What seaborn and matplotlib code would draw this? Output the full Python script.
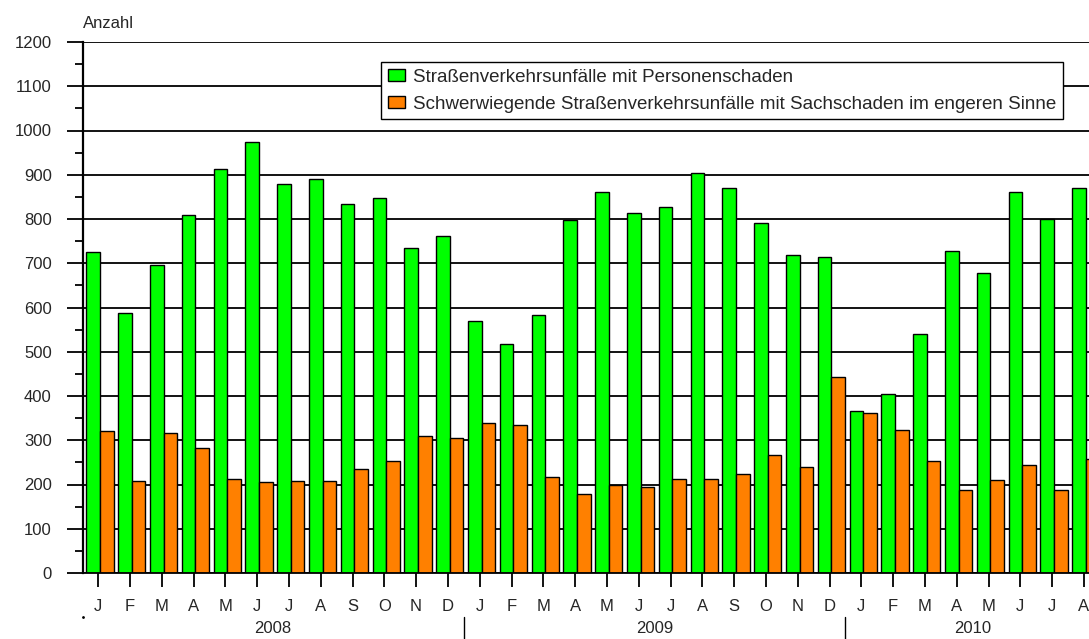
import pandas as pd
import numpy as np
import matplotlib
matplotlib.use('Agg')
import matplotlib.pyplot as plt
from matplotlib.ticker import MultipleLocator
import seaborn as sns

# Monate Jan 2008 bis Aug 2010
monate = ['J', 'F', 'M', 'A', 'M', 'J', 'J', 'A', 'S', 'O', 'N', 'D'] * 2 + ['J', 'F', 'M', 'A', 'M', 'J', 'J', 'A']
schluessel = [f'{2008 + i // 12}-{i % 12 + 1:02d}' for i in range(len(monate))]
jahre = ['2008', '2009', '2010']

personenschaden = [726, 587, 697, 809, 912, 974, 879, 891, 835, 848, 735, 761,
                   570, 517, 583, 798, 861, 814, 826, 905, 869, 792, 718, 714,
                   365, 404, 540, 728, 679, 861, 799, 869]
sachschaden = [322, 209, 317, 283, 213, 205, 209, 209, 235, 252, 310, 304,
               340, 335, 218, 179, 200, 195, 213, 213, 223, 266, 240, 444,
               361, 323, 252, 187, 210, 244, 187, 258]

reihe1 = 'Straßenverkehrsunfälle mit Personenschaden'
reihe2 = 'Schwerwiegende Straßenverkehrsunfälle mit Sachschaden im engeren Sinne'

df = pd.DataFrame({
    'monat': schluessel * 2,
    'anzahl': personenschaden + sachschaden,
    'reihe': [reihe1] * len(schluessel) + [reihe2] * len(schluessel),
})

sns.set_style('white')
plt.rcParams['font.family'] = ['Liberation Sans', 'DejaVu Sans']

fig = plt.figure(figsize=(10.89, 6.39), dpi=100)
ax = fig.add_axes([83 / 1089, 1 - 573 / 639, 1 - 83 / 1089, (573 - 42) / 639])

sns.barplot(data=df, x='monat', y='anzahl', hue='reihe', order=schluessel,
            hue_order=[reihe1, reihe2], palette=['#00ff00', '#ff8000'],
            saturation=1, width=0.86, edgecolor='black', linewidth=1.0, ax=ax)

ax.set_xlim(-0.535, 31.1)
ax.set_ylim(0, 1200)
ax.set_xlabel('')
ax.set_ylabel('')

# y-Achse: Gitterlinien reichen links über die Achse hinaus
ax.yaxis.set_major_locator(MultipleLocator(100))
ax.yaxis.set_minor_locator(MultipleLocator(50))
ax.tick_params(axis='y', which='major', length=11.5, width=1.3, color='black',
               direction='out', pad=11, labelsize=12, left=True)
ax.tick_params(axis='y', which='minor', length=6, width=1.3, color='black',
               direction='out', left=True)
ax.yaxis.grid(True, which='major', color='black', linewidth=1.3)
ax.set_axisbelow(True)

# x-Achse: Monatsbuchstaben
ax.set_xticks(np.arange(len(monate)) - 0.06)
ax.set_xticklabels(monate)
ax.tick_params(axis='x', length=10, width=1.3, color='black', direction='out',
               pad=9, labelsize=12, bottom=True)

for s in ['top', 'right']:
    ax.spines[s].set_visible(False)
ax.spines['left'].set_color('black')
ax.spines['left'].set_linewidth(1.6)
ax.spines['bottom'].set_color('black')
ax.spines['bottom'].set_linewidth(1.3)

# Jahresbeschriftung und Trennstriche
tr = ax.get_xaxis_transform()
for jahr, xm in zip(jahre, [5.44, 17.44, 27.44]):
    ax.text(xm, -0.1036, jahr, transform=tr, ha='center', va='center', fontsize=12)
for xs in [11.44, 23.44]:
    ax.plot([xs, xs], [-0.083, -0.125], transform=tr, color='black', linewidth=1.0, clip_on=False)
ax.plot([-0.53], [-0.083], transform=tr, marker='.', markersize=2, color='black', clip_on=False)

ax.text(0, 1.034, 'Anzahl', transform=ax.transAxes, ha='left', va='center', fontsize=12)

handles, labels = ax.get_legend_handles_labels()
ax.legend(handles, labels, loc='upper left', bbox_to_anchor=((381 - 83) / 1006, (573 - 62) / 531),
          borderaxespad=0, frameon=True, fancybox=False, edgecolor='black', framealpha=1,
          fontsize=13.5, handlelength=0.95, handleheight=0.6, handletextpad=0.4,
          labelspacing=0.55, borderpad=0.35)
ax.get_legend().get_frame().set_linewidth(1.0)

fig.savefig('out.png', dpi=100)
